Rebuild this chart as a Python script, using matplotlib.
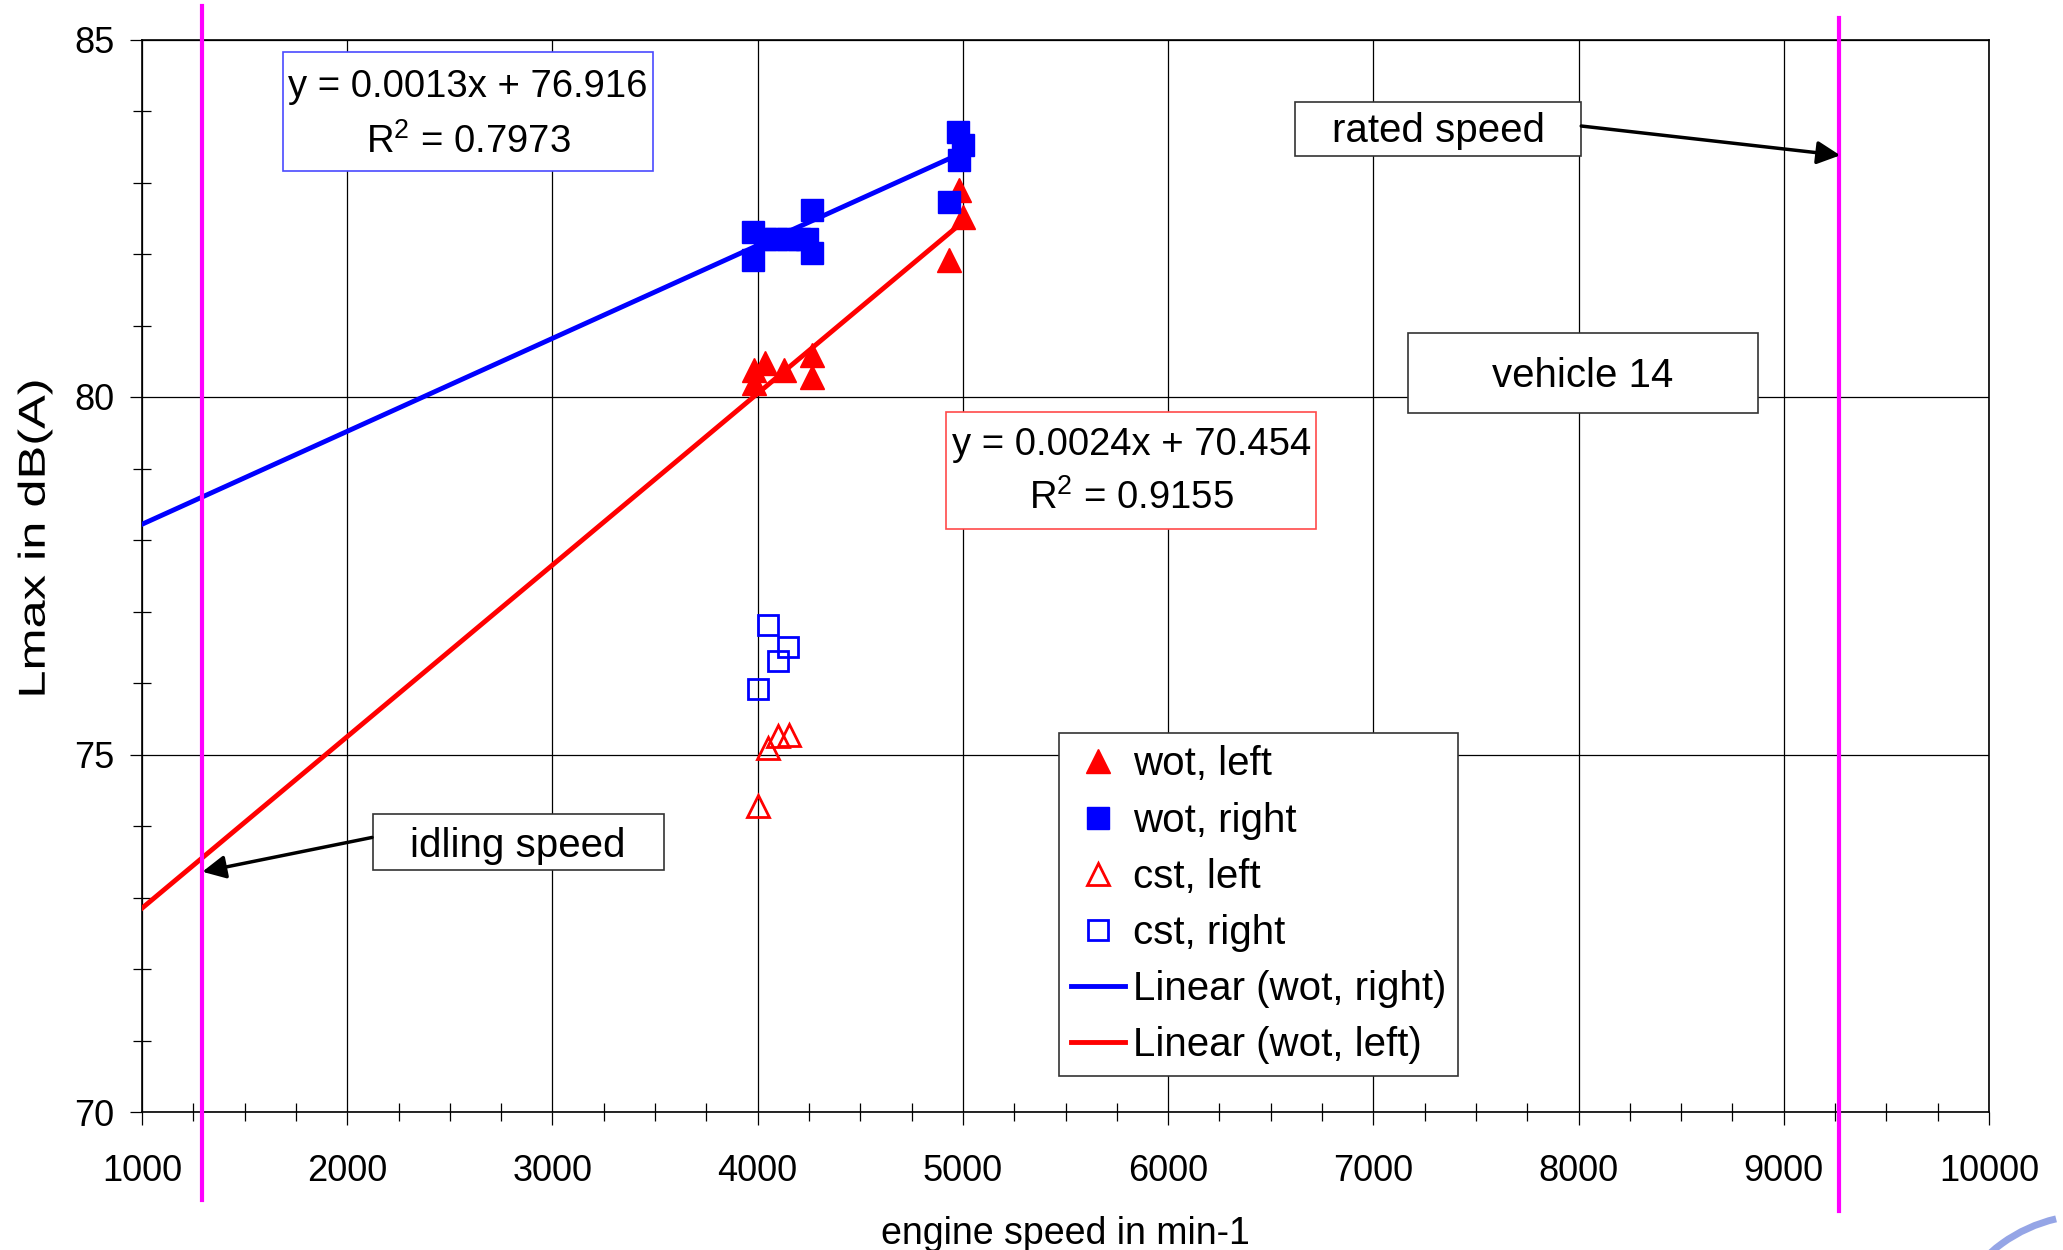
import matplotlib.pyplot as plt
from matplotlib.patches import Rectangle, Arc, PathPatch
from matplotlib.ticker import MultipleLocator
from matplotlib.textpath import TextPath
from matplotlib.font_manager import FontProperties
from matplotlib.transforms import Affine2D, IdentityTransform

plt.rcParams['font.family'] = ['Liberation Sans', 'DejaVu Sans']
plt.rcParams['mathtext.fontset'] = 'custom'
plt.rcParams['mathtext.rm'] = 'Liberation Sans'
plt.rcParams['mathtext.default'] = 'regular'

wot_left_x = [3980, 3980, 4035, 4130, 4265, 4265, 4930, 4980, 5000]
wot_left_y = [80.38, 80.19, 80.48, 80.38, 80.59, 80.28, 81.92, 82.90, 82.52]

wot_right_x = [3976, 3976, 4035, 4090, 4150, 4200, 4240, 4265, 4265, 4930, 4977, 4980, 5002]
wot_right_y = [82.31, 81.91, 82.21, 82.21, 82.21, 82.21, 82.21, 82.61, 82.02, 82.73, 83.71, 83.31, 83.52]

cst_left_x = [4000, 4052, 4101, 4155]
cst_left_y = [74.28, 75.09, 75.26, 75.27]

cst_right_x = [4000, 4052, 4101, 4150]
cst_right_y = [75.91, 76.81, 76.31, 76.51]

# linear trendlines (Excel), endpoints
trend_x = [1000, 5000]
trend_right = [78.22, 83.42]
trend_left = [72.85, 82.45]

idle_speed = 1290
rated_speed = 9270

fig = plt.figure(figsize=(20.63, 12.5), dpi=100)
ax = fig.add_axes([142 / 2063, 1 - 1112 / 1250, 1847 / 2063, 1072.5 / 1250])

ax.set_xlim(1000, 10000)
ax.set_ylim(70, 85)
ax.xaxis.set_major_locator(MultipleLocator(1000))
ax.xaxis.set_minor_locator(MultipleLocator(250))
ax.yaxis.set_major_locator(MultipleLocator(5))
ax.yaxis.set_minor_locator(MultipleLocator(1))
ax.grid(True, which='major', color='black', lw=0.9)
ax.set_axisbelow(True)
ax.tick_params(which='major', direction='out', length=9, width=0.9, labelsize=26)
ax.tick_params(which='minor', direction='inout', length=13, width=0.9)
ax.tick_params(axis='x', which='major', pad=21)
ax.tick_params(axis='y', which='major', pad=11)
for s in ax.spines.values():
    s.set_linewidth(1.2)

ax.plot(wot_left_x, wot_left_y, '^', color='red', ms=17, mec='red', label='wot, left', zorder=3)
ax.plot(wot_right_x, wot_right_y, 's', color='blue', ms=16, mec='blue', label='wot, right', zorder=3)
ax.plot(cst_left_x, cst_left_y, '^', mfc='none', mec='red', ms=15.5, mew=2, label='cst, left', zorder=3)
ax.plot(cst_right_x, cst_right_y, 's', mfc='none', mec='blue', ms=15, mew=2, label='cst, right', zorder=3)
ax.plot(trend_x, trend_right, color='blue', lw=3.5, label='Linear (wot, right)', zorder=4)
ax.plot(trend_x, trend_left, color='red', lw=3.5, label='Linear (wot, left)', zorder=4)

# idling / rated speed markers run past the plot area
ax.plot([idle_speed, idle_speed], [68.77, 85.47], color='magenta', lw=3, clip_on=False, zorder=5)
ax.plot([rated_speed, rated_speed], [68.62, 85.30], color='magenta', lw=3, clip_on=False, zorder=5)

ax.set_xlabel('engine speed in min-1', fontsize=27, labelpad=20)

# y title is drawn stretched along its length, like the original
tp = TextPath((0, 0), 'Lmax in dB(A)', size=1, prop=FontProperties(family='Liberation Sans'))
bb = tp.get_extents()
ylab_tr = (Affine2D().translate(-(bb.x0 + bb.x1) / 2, -(bb.y0 + bb.y1) / 2)
           .scale(313 / bb.width, 37.5).rotate_deg(90).translate(35, 1250 - 538))
fig.patches.append(PathPatch(ylab_tr.transform_path(tp), facecolor='black', lw=0,
                             transform=IdentityTransform()))


def box(x0, x1, y0, y1, ec):
    ax.add_patch(Rectangle((x0, y0), x1 - x0, y1 - y0, facecolor='white',
                           edgecolor=ec, lw=1.2, zorder=6))


# trendline equations
box(1687, 3490, 83.16, 84.82, '#4a4aff')
ax.text(2589, 84.19, 'y = 0.0013x + 76.916', fontsize=27.5, ha='center', va='baseline', zorder=7)
ax.text(2589, 83.41, 'R$^{2}$ = 0.7973', fontsize=27.5, ha='center', va='baseline', zorder=7)

box(4918, 6721, 78.15, 79.79, '#ff4a4a')
ax.text(5820, 79.19, 'y = 0.0024x + 70.454', fontsize=27.5, ha='center', va='baseline', zorder=7)
ax.text(5820, 78.44, 'R$^{2}$ = 0.9155', fontsize=27.5, ha='center', va='baseline', zorder=7)

# labels
box(7170, 8875, 79.77, 80.90, '#333333')
ax.text(8022, 80.14, 'vehicle 14', fontsize=29, ha='center', va='baseline', zorder=7)

box(6619, 8013, 83.37, 84.12, '#333333')
ax.text(7316, 83.56, 'rated speed', fontsize=29, ha='center', va='baseline', zorder=7)
ax.annotate('', xy=(9275, 83.38), xytext=(8013, 83.79),
            arrowprops=dict(arrowstyle='-|>', color='black', lw=2.5, mutation_scale=35,
                            shrinkA=0, shrinkB=0), zorder=7)

box(2124, 3543, 73.38, 74.17, '#333333')
ax.text(2833, 73.57, 'idling speed', fontsize=29, ha='center', va='baseline', zorder=7)
ax.annotate('', xy=(1294, 73.36), xytext=(2121, 73.84),
            arrowprops=dict(arrowstyle='-|>', color='black', lw=2.5, mutation_scale=35,
                            shrinkA=0, shrinkB=0), zorder=7)

leg = ax.legend(loc='upper left', bbox_to_anchor=(0.4965, 0.353), fontsize=29,
                frameon=True, fancybox=False, edgecolor='#333333', framealpha=1,
                handlelength=1.33, handletextpad=0.2, labelspacing=0.45,
                borderpad=0.3, borderaxespad=0)
leg.get_frame().set_linewidth(1.2)
leg.set_zorder(8)

# corner of a logo in the bottom right
fig.patches.append(Arc((2090 / 2063, 1 - 1365 / 1250), 300 / 2063, 300 / 1250,
                       theta1=98, theta2=135, transform=fig.transFigure,
                       color='#7b8fe0', lw=5, alpha=0.8))

fig.savefig('out.png', dpi=100)
